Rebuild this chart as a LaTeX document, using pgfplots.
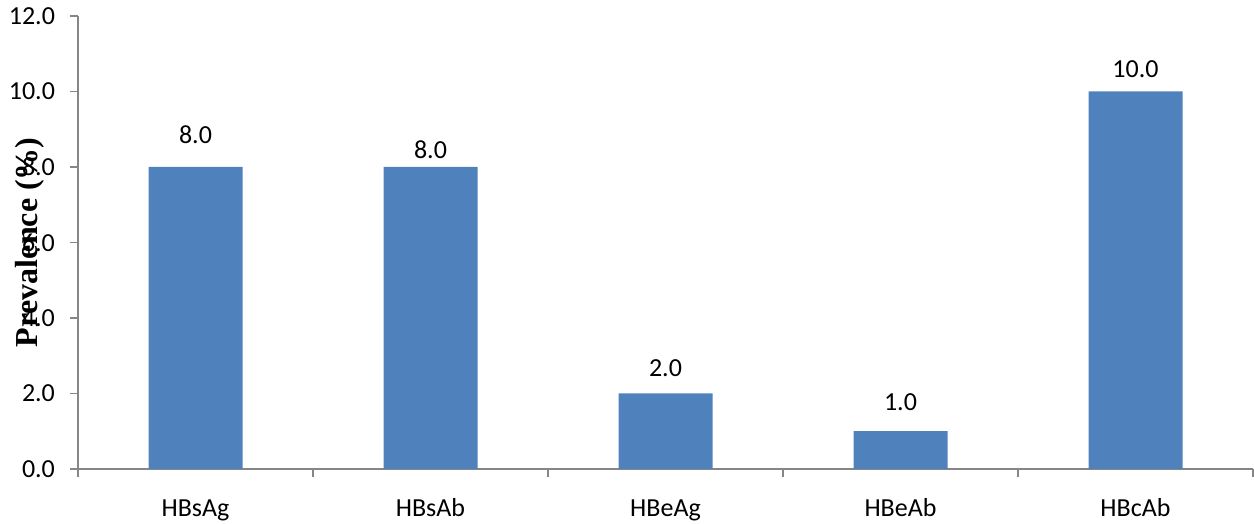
\documentclass[border=0pt]{standalone}
\usepackage{pgfplots}
\usepackage{pgfplotstable}
\pgfplotsset{compat=1.18}
\usepackage{fontspec}
\setmainfont{Carlito}
\newfontfamily\labelfont{Liberation Serif}
\definecolor{barblue}{HTML}{4F81BD}
\definecolor{axisgray}{HTML}{868686}

% prevalence per marker; off = vertical offset of the value label
\pgfplotstableread{
x y off
0 8 16
1 8 8.5
2 2 12.5
3 1 14.5
4 10 11
}\prevdata

\begin{document}
\begin{tikzpicture}
\begin{axis}[
  name=ax,
  scale only axis,
  width=587.5pt, height=226.5pt,
  xmin=-0.5, xmax=4.5, ymin=0, ymax=12,
  axis lines=left,
  axis line style={-, draw=axisgray, line width=0.75pt},
  tick align=outside,
  tick style={draw=axisgray, line width=0.75pt},
  major tick length=4pt, minor tick length=4pt,
  xtick={0,...,4},
  xticklabels={HBsAg,HBsAb,HBeAg,HBeAb,HBcAb},
  major x tick style={draw=none},
  minor xtick={-0.5,0.5,1.5,2.5,3.5,4.5},
  ytick={0,2,...,12},
  ticklabel style={font=\fontsize{13}{15}\selectfont},
  xticklabel style={anchor=base, yshift=-19.5pt},
  yticklabel style={xshift=-4pt},
  /pgf/number format/.cd, fixed, fixed zerofill, precision=1, assume math mode=true,
  /pgfplots/.cd,
  ylabel={\labelfont\bfseries Prevalence (\%)},
  ylabel style={at={([xshift=-24pt]axis description cs:0,0.5)}, anchor=center,
    font=\fontsize{16}{18}\selectfont},
  ybar, bar width=47pt,
  nodes near coords={\pgfmathprintnumber{\pgfplotspointmeta}},
  visualization depends on={\thisrow{off} \as \off},
  every node near coord/.append style={anchor=center, yshift=\off pt,
    font=\fontsize{13}{15}\selectfont, text=black},
  point meta=explicit,
]
\addplot[fill=barblue, draw=none] table[x=x, y=y, meta=y] {\prevdata};
\end{axis}
\pgfresetboundingbox
\path[use as bounding box] ([shift={(-39pt,-27pt)}]ax.south west) rectangle ([shift={(0.5pt,8pt)}]ax.north east);
\end{tikzpicture}
\end{document}
